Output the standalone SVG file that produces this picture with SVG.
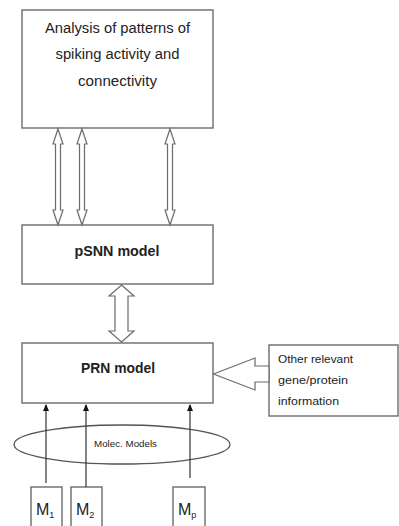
<svg xmlns="http://www.w3.org/2000/svg" width="399" height="526" viewBox="0 0 399 526">
<defs>
<style>
.box{fill:#fff;stroke:#6b6b6b;stroke-width:1.4}
.dbl{fill:#fff;stroke:#6b6b6b;stroke-width:1.2;stroke-linejoin:miter}
.t{font-family:"Liberation Sans",Arial,sans-serif;fill:#222;text-anchor:middle}
.tl{font-family:"Liberation Sans",Arial,sans-serif;fill:#222}
.ln{stroke:#333;stroke-width:1.2;fill:none}
</style>
<marker id="ah" markerWidth="8" markerHeight="8" refX="6" refY="3" orient="auto" markerUnits="userSpaceOnUse">
<path d="M0,0 L7,3 L0,6 z" fill="#111"/>
</marker>
</defs>
<rect width="399" height="526" fill="#fff"/>

<g id="analysis">
<rect class="box" x="22" y="10" width="191" height="118"/>
<text class="t" x="117.5" y="33" font-size="14" textLength="145" lengthAdjust="spacingAndGlyphs">Analysis of patterns of</text>
<text class="t" x="117.5" y="59" font-size="14" textLength="124" lengthAdjust="spacingAndGlyphs">spiking activity and</text>
<text class="t" x="117.5" y="86" font-size="14" textLength="79" lengthAdjust="spacingAndGlyphs">connectivity</text>
</g>

<g id="psnn">
<rect class="box" x="22" y="225" width="191" height="59"/>
<text class="t" x="117" y="256" font-size="15" font-weight="bold" textLength="85" lengthAdjust="spacingAndGlyphs">pSNN model</text>
</g>

<g id="prn">
<rect class="box" x="22" y="343" width="191" height="60"/>
<text class="t" x="118" y="373" font-size="15" font-weight="bold" textLength="74" lengthAdjust="spacingAndGlyphs">PRN model</text>
</g>

<g id="other">
<rect class="box" x="269" y="345" width="129" height="71"/>
<text class="tl" x="278" y="363" font-size="11" textLength="75" lengthAdjust="spacingAndGlyphs">Other relevant</text>
<text class="tl" x="278" y="384" font-size="11" textLength="70" lengthAdjust="spacingAndGlyphs">gene/protein</text>
<text class="tl" x="278" y="405" font-size="11" textLength="61" lengthAdjust="spacingAndGlyphs">information</text>
</g>

<g id="molec">
<ellipse cx="122" cy="444.5" rx="108" ry="19.5" fill="none" stroke="#555" stroke-width="1.3"/>
<text class="t" x="125.5" y="447" font-size="9.5" textLength="63" lengthAdjust="spacingAndGlyphs">Molec. Models</text>
</g>

<g id="m1">
<rect class="box" x="31" y="487" width="31" height="50"/>
<text class="tl" x="36" y="515" font-size="16">M<tspan font-size="9" dy="3">1</tspan></text>
</g>
<g id="m2">
<rect class="box" x="71" y="487" width="31" height="50"/>
<text class="tl" x="76" y="515" font-size="16">M<tspan font-size="9" dy="3">2</tspan></text>
</g>
<g id="mp">
<rect class="box" x="173" y="487" width="32" height="50"/>
<text class="tl" x="178" y="515" font-size="16">M<tspan font-size="9" dy="3">p</tspan></text>
</g>

<g id="connectors">
<polygon class="dbl" points="58,129 63,144 60.5,144 60.5,210 63,210 58,225 53,210 55.5,210 55.5,144 53,144"/>
<polygon class="dbl" points="82,129 87,144 84.5,144 84.5,210 87,210 82,225 77,210 79.5,210 79.5,144 77,144"/>
<polygon class="dbl" points="170,129 175,144 172.5,144 172.5,210 175,210 170,225 165,210 167.5,210 167.5,144 165,144"/>
<polygon class="dbl" points="121.5,285 134,296 128,296 128,331 134,331 121.5,342 109,331 115,331 115,296 109,296"/>
<polygon class="dbl" points="213.5,374 255,358 255,366 269,366 269,382 255,382 255,390"/>
<line class="ln" x1="46" y1="483" x2="46" y2="405" marker-end="url(#ah)"/>
<line class="ln" x1="86" y1="487" x2="86" y2="405" marker-end="url(#ah)"/>
<line class="ln" x1="190" y1="478" x2="190" y2="405" marker-end="url(#ah)"/>
</g>
</svg>
